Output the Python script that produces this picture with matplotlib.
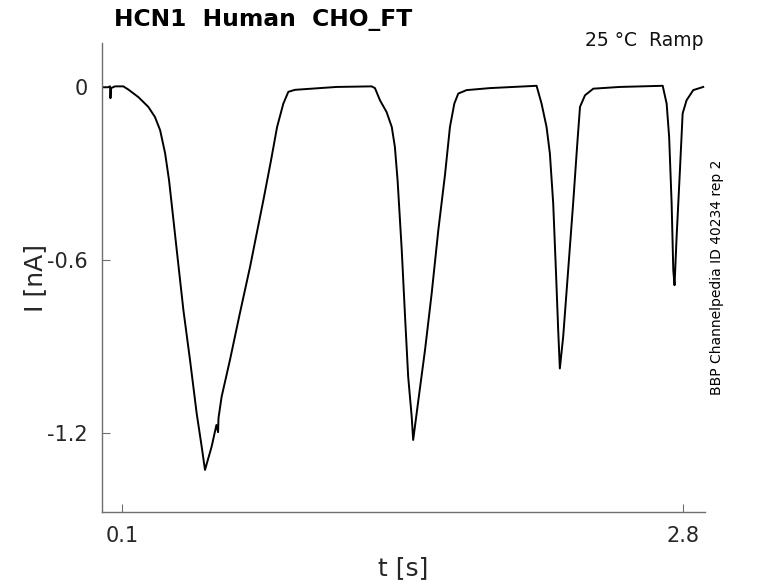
import matplotlib
matplotlib.use("Agg")
import matplotlib.pyplot as plt

# trace: time [s], current [nA]
time_s = [0.000, 0.031, 0.041, 0.043, 0.046, 0.065, 0.105, 0.129, 0.177, 0.225,
          0.257, 0.282, 0.306, 0.325, 0.341, 0.362, 0.394, 0.426, 0.458, 0.482,
          0.498, 0.530, 0.553, 0.561, 0.563, 0.578, 0.618, 0.666, 0.715, 0.747,
          0.779, 0.816, 0.845, 0.875, 0.899, 0.931, 0.971, 1.132, 1.300, 1.316,
          1.340, 1.372, 1.397, 1.412, 1.425, 1.445, 1.461, 1.476, 1.493, 1.500,
          1.525, 1.557, 1.589, 1.621, 1.653, 1.677, 1.698, 1.717, 1.757, 1.870,
          2.094, 2.118, 2.142, 2.158, 2.174, 2.187, 2.198, 2.206, 2.222, 2.246,
          2.270, 2.290, 2.303, 2.327, 2.367, 2.495, 2.701, 2.720, 2.732, 2.744,
          2.752, 2.758, 2.768, 2.784, 2.797, 2.816, 2.848, 2.896]
current_nA = [0.000, 0.000, 0.003, -0.038, -0.003, 0.003, 0.003, -0.008, -0.034, -0.068,
              -0.103, -0.149, -0.229, -0.323, -0.427, -0.565, -0.773, -0.947, -1.132, -1.247,
              -1.328, -1.247, -1.172, -1.197, -1.148, -1.074, -0.947, -0.784, -0.623, -0.507,
              -0.392, -0.253, -0.138, -0.057, -0.016, -0.009, -0.007, 0.001, 0.003, -0.003,
              -0.045, -0.086, -0.138, -0.207, -0.323, -0.565, -0.797, -1.005, -1.144, -1.224,
              -1.086, -0.912, -0.716, -0.496, -0.305, -0.138, -0.057, -0.022, -0.010, -0.003,
              0.005, -0.057, -0.138, -0.230, -0.403, -0.635, -0.843, -0.976, -0.866, -0.635,
              -0.403, -0.195, -0.068, -0.028, -0.005, 0.001, 0.005, -0.057, -0.172, -0.403,
              -0.635, -0.687, -0.519, -0.288, -0.091, -0.045, -0.010, 0.001]

xticks = [0.1, 2.8]
yticks = [-1.2, -0.6, 0]
ytick_labels = ["-1.2", "-0.6", "0"]

fig = plt.figure(figsize=(7.78, 5.83), dpi=100)
ax = fig.add_axes([0.1305, 0.1218, 0.7755, 0.8042])

ax.plot(time_s, current_nA, color="black", linewidth=1.4)

ax.set_xlim(0, 2.904)
ax.set_ylim(-1.474, 0.153)
ax.set_xticks(xticks)
ax.set_xticklabels(["0.1", "2.8"])
ax.set_yticks(yticks)
ax.set_yticklabels(ytick_labels)

for s in ["top", "right"]:
    ax.spines[s].set_visible(False)
for s in ["left", "bottom"]:
    ax.spines[s].set_color("#6e6e6e")
    ax.spines[s].set_linewidth(1.0)
ax.tick_params(direction="in", length=6, width=0.8, color="#6e6e6e",
               labelsize=15, labelcolor="#262626", pad=10)

ax.set_xlabel("t [s]", fontsize=18, color="#262626", labelpad=7)
ax.set_ylabel("I [nA]", fontsize=18, color="#262626", labelpad=0)

fig.text(0.147, 0.967, "HCN1  Human  CHO_FT", fontsize=16.8, fontweight="bold",
         ha="left", va="center")
fig.text(0.904, 0.931, "25 °C  Ramp", fontsize=13.5, ha="right", va="center",
         color="#111111")
fig.text(0.921, 0.525, "BBP Channelpedia ID 40234 rep 2", fontsize=10,
         rotation=90, ha="center", va="center")

fig.savefig("out.png", dpi=100)
